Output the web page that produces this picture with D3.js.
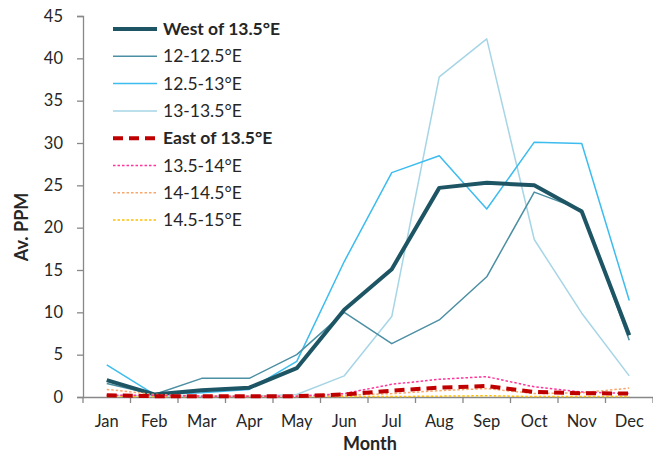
<!DOCTYPE html>
<html>
<head>
<meta charset="utf-8">
<script src="https://cdn.jsdelivr.net/npm/d3@7"></script>
<style>
  body { margin: 0; background: #fff; }
  text { font-family: Lato, "Open Sans", sans-serif; fill: #262626; }
</style>
</head>
<body>
<div id="chart"></div>
<script>
// chart data
var months = ["Jan","Feb","Mar","Apr","May","Jun","Jul","Aug","Sep","Oct","Nov","Dec"];
var yTicks = [0,5,10,15,20,25,30,35,40,45];

var west    = [2.0, 0.3, 0.8, 1.1, 3.4, 10.3, 15.1, 24.7, 25.3, 25.0, 21.9, 7.3];
var w12_125 = [1.6, 0.3, 2.2, 2.2, 5.0, 10.0, 6.3, 9.1, 14.2, 24.2, 22.1, 6.7];
var w125_13 = [3.8, 0.3, 0.5, 0.9, 4.2, 16.0, 26.5, 28.5, 22.2, 30.1, 29.95, 11.4];
var w13_135 = [0.2, 0.1, 0.1, 0.1, 0.3, 2.5, 9.5, 37.8, 42.3, 18.6, 9.9, 2.5];
var east    = [0.2, 0.1, 0.1, 0.1, 0.1, 0.3, 0.75, 1.1, 1.3, 0.6, 0.45, 0.4];
var e135_14 = [0.2, 0.2, 0.1, 0.1, 0.1, 0.4, 1.5, 2.1, 2.4, 1.2, 0.6, 0.4];
var e14_145 = [0.9, 0.3, 0.1, 0.1, 0.1, 0.2, 0.4, 0.75, 1.0, 0.4, 0.5, 1.05];
var e145_15 = [0.1, 0.05, 0.05, 0.05, 0.05, 0.05, 0.05, 0.1, 0.15, 0.05, 0.05, 0.05];

var series = [
  {name: "West of 13.5°E", values: west,    color: "#1d5564", width: 4,   dash: null,  bold: true},
  {name: "12-12.5°E",      values: w12_125, color: "#4b8fa3", width: 1.5, dash: null,  bold: false},
  {name: "12.5-13°E",      values: w125_13, color: "#3dbcef", width: 1.5, dash: null,  bold: false},
  {name: "13-13.5°E",      values: w13_135, color: "#a6d5e6", width: 1.5, dash: null,  bold: false},
  {name: "East of 13.5°E", values: east,    color: "#c00000", width: 4,   dash: "10,6", bold: true},
  {name: "13.5-14°E",      values: e135_14, color: "#ff3399", width: 1.5, dash: "2.5,2", bold: false},
  {name: "14-14.5°E",      values: e14_145, color: "#f8a66a", width: 1.5, dash: "2.5,2", bold: false},
  {name: "14.5-15°E",      values: e145_15, color: "#ffc000", width: 1.5, dash: "2.5,2", bold: false}
];

var W = 653, H = 454;
var margin = {top: 16, right: 0, bottom: 57, left: 83};
var w = W - margin.left - margin.right,
    h = H - margin.top - margin.bottom;

var svg = d3.select("#chart").append("svg")
    .attr("width", W)
    .attr("height", H)
    .append("g")
    .attr("transform", "translate(" + margin.left + "," + margin.top + ")");

var x = d3.scaleBand().domain(months).range([0, w]);
var y = d3.scaleLinear().domain([0, 45]).range([h, 0]);

// y axis
var yAxis = svg.append("g")
    .call(d3.axisLeft(y).tickValues(yTicks).tickSize(6).tickPadding(14));
yAxis.select(".domain").attr("stroke", "#888").attr("stroke-width", 1.3);
yAxis.selectAll(".tick line").attr("stroke", "#888").attr("stroke-width", 1.3);
yAxis.selectAll("text").style("font-size", "16.5px").style("font-family", "Lato, sans-serif").attr("fill", "#262626");

// x axis, ticks between categories
var xAxis = svg.append("g")
    .attr("transform", "translate(0," + h + ")")
    .call(d3.axisBottom(x).tickSize(0).tickPadding(18));
xAxis.select(".domain").attr("stroke", "#888").attr("stroke-width", 1.3);
xAxis.selectAll("text").style("font-size", "16.5px").style("font-family", "Lato, sans-serif").attr("fill", "#262626");
svg.append("g").selectAll("line")
    .data(months.concat(["end"]))
    .enter().append("line")
    .attr("x1", function(d, i) { return i * x.step(); })
    .attr("x2", function(d, i) { return i * x.step(); })
    .attr("y1", h)
    .attr("y2", h + 6)
    .attr("stroke", "#888")
    .attr("stroke-width", 1.3);

// axis titles
svg.append("text")
    .attr("x", w / 2 + 2)
    .attr("y", h + 53)
    .style("text-anchor", "middle")
    .style("font-size", "18px")
    .style("font-weight", "bold")
    .text("Month");

svg.append("text")
    .attr("transform", "rotate(-90)")
    .attr("x", -211)
    .attr("y", -55)
    .style("text-anchor", "middle")
    .style("font-size", "18px")
    .style("font-weight", "bold")
    .text("Av. PPM");

// lines, east group drawn on top
var line = d3.line()
    .x(function(d, i) { return x(months[i]) + x.bandwidth() / 2; })
    .y(function(d) { return y(d); });

var drawOrder = [3, 2, 1, 0, 7, 6, 5, 4];
drawOrder.forEach(function(k) {
  var s = series[k];
  svg.append("path")
    .datum(s.values)
    .attr("d", line)
    .attr("fill", "none")
    .attr("stroke", s.color)
    .attr("stroke-width", s.width)
    .attr("stroke-dasharray", s.dash)
    .attr("stroke-linejoin", "round");
});

// legend
var legX = 113 - margin.left, legY = 29 - margin.top, step = 27.3;
var leg = svg.append("g");
series.forEach(function(s, i) {
  var yy = legY + i * step;
  leg.append("line")
    .attr("x1", legX).attr("x2", legX + 44)
    .attr("y1", yy).attr("y2", yy)
    .attr("stroke", s.color)
    .attr("stroke-width", s.width)
    .attr("stroke-dasharray", s.dash);
  leg.append("text")
    .attr("x", legX + 50)
    .attr("y", yy)
    .attr("dy", "0.35em")
    .style("font-size", "17.5px")
    .style("font-weight", s.bold ? "bold" : "normal")
    .text(s.name);
});
</script>
</body>
</html>
